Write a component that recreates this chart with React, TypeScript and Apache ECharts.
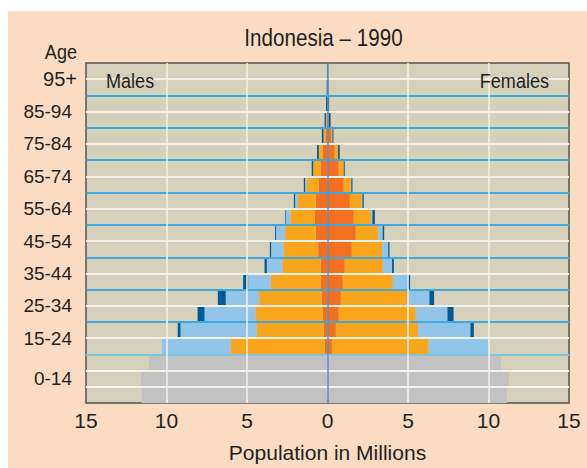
import React, { useEffect, useRef } from "react";
import * as echarts from "echarts";

// 21 five-year rows, bottom to top
const rowLabels = ["0-4", "5-9", "10-14", "15-19", "20-24", "25-29", "30-34", "35-39", "40-44", "45-49", "50-54", "55-59", "60-64", "65-69", "70-74", "75-79", "80-84", "85-89", "90-94", "95-99", "100+"];
// label groups shown on the axis
const ageGroups = ["0-14", "15-24", "25-34", "35-44", "45-54", "55-64", "65-74", "75-84", "85-94", "95+"];
const xTickLabels = [-15, -10, -5, 0, 5, 10, 15];

// rows 0-4, 5-9, 10-14 (millions)
const maleChildren = [11.53, 11.59, 11.1];
const femaleChildren = [11.14, 11.26, 10.77];

// rows 15-19 ... 100+ (millions, segment widths from the centre outward)
const maleDarkOrange = [0.17, 0.23, 0.29, 0.35, 0.43, 0.43, 0.58, 0.73, 0.79, 0.73, 0.54, 0.41, 0.29, 0.12, 0.05, 0, 0, 0];
const maleOrange = [5.84, 4.16, 4.18, 3.9, 3.09, 2.37, 2.15, 1.9, 1.51, 1.13, 0.75, 0.48, 0.25, 0.13, 0.05, 0, 0, 0];
const maleLightBlue = [4.28, 4.74, 3.17, 2.07, 1.41, 0.97, 0.77, 0.56, 0.29, 0.15, 0.1, 0, 0, 0, 0, 0, 0, 0];
const maleDarkBlue = [0, 0.17, 0.43, 0.49, 0.31, 0.14, 0.08, 0.06, 0.04, 0.08, 0.08, 0.09, 0.11, 0.1, 0.08, 0.09, 0.05, 0.03];
const femaleDarkOrange = [0.27, 0.52, 0.7, 0.83, 0.95, 1.07, 1.51, 1.76, 1.63, 1.39, 1.01, 0.7, 0.45, 0.25, 0.08, 0, 0, 0];
const femaleOrange = [6.0, 5.11, 4.78, 4.16, 3.11, 2.36, 1.88, 1.38, 1.08, 0.74, 0.44, 0.31, 0.21, 0.06, 0, 0, 0, 0];
const femaleLightBlue = [3.75, 3.25, 1.97, 1.34, 0.91, 0.58, 0.38, 0.29, 0.08, 0.04, 0.03, 0, 0, 0, 0, 0, 0, 0];
const femaleDarkBlue = [0, 0.21, 0.38, 0.29, 0.16, 0.11, 0.08, 0.09, 0.15, 0.08, 0.07, 0.06, 0.1, 0.06, 0.11, 0.1, 0.05, 0.03];

const FONT = "'Liberation Sans', Arial, sans-serif";
const TEXT = "#231f20";
const C_GRAY = "#c2c2c2";
const C_DORANGE = "#f37021";
const C_ORANGE = "#f9a61c";
const C_LBLUE = "#92c4ea";
const C_DBLUE = "#005b94";
const CONDENSE = 0.86;

const nChild = maleChildren.length;

function childData(vals: number[], sign: number) {
  return rowLabels.map((_, i) => (i < nChild ? sign * vals[i] : null));
}
function adultData(vals: number[], sign: number) {
  return rowLabels.map((_, i) => (i < nChild ? null : sign * vals[i - nChild]));
}

function label(text: string, x: number, y: number, size: number, align: string) {
  return {
    type: "text",
    x,
    y,
    scaleX: CONDENSE,
    z: 20,
    style: { text, x: 0, y: 0, align, verticalAlign: "middle", fontSize: size, fill: TEXT, fontFamily: FONT },
  };
}

export default function App() {
  const ref = useRef<HTMLDivElement>(null);
  useEffect(() => {
    if (!ref.current) return;
    const chart = echarts.init(ref.current, null, { renderer: "svg" });

    // horizontal row boundaries: 22 lines (bottom edge .. top edge)
    const hColors: string[] = [];
    for (let k = 0; k <= rowLabels.length; k++) {
      if (k === 0 || k === rowLabels.length) hColors.push("rgba(0,0,0,0)");
      else if (k === nChild) hColors.push("#7cc6e2");
      else if (k > nChild && (k - nChild) % 2 === 0) hColors.push("#3fa8de");
      else hColors.push("#f2f0e8");
    }
    const vColors = xTickLabels.map((v) =>
      Math.abs(v) === 15 ? "rgba(0,0,0,0)" : v === 0 ? "#5b8ec2" : "#f4f2ec"
    );

    // label slots at half-row resolution (43 positions, boundaryGap false)
    const slots: string[] = new Array(rowLabels.length * 2 + 1).fill("");
    ageGroups.forEach((g, i) => {
      if (i === 0) slots[nChild] = g; // centre of the 3 child rows
      else slots[2 * (nChild + 2 * (i - 1) + 1)] = g;
    });
    const lastGroup = ageGroups[ageGroups.length - 1];

    const mk = (name: string, data: (number | null)[], color: string) => ({
      name,
      type: "bar",
      stack: "pop",
      yAxisIndex: 0,
      barCategoryGap: "0%",
      data,
      itemStyle: { color },
      emphasis: { disabled: true },
    });

    chart.setOption({
      animation: false,
      backgroundColor: "#fbdcc3",
      textStyle: { fontFamily: FONT },
      grid: {
        left: 78,
        top: 52,
        width: 483,
        height: 340,
        show: true,
        backgroundColor: "#d5d0ba",
        borderColor: "#55534c",
        borderWidth: 1.5,
      },
      xAxis: {
        type: "value",
        min: -15,
        max: 15,
        interval: 5,
        z: 10,
        axisLine: { show: false },
        axisTick: { show: false },
        splitLine: { show: true, lineStyle: { color: vColors, width: 1.5 } },
        axisLabel: {
          margin: 7,
          fontSize: 21,
          color: TEXT,
          fontFamily: FONT,
          formatter: (v: number) => String(Math.abs(v)),
        },
        name: "Population in Millions",
        nameLocation: "middle",
        nameGap: 39,
        nameTextStyle: { fontSize: 21, color: TEXT, fontFamily: FONT },
      },
      yAxis: [
        {
          type: "category",
          data: rowLabels,
          z: 10,
          axisLine: { show: false },
          axisTick: { show: false },
          axisLabel: { show: false },
          splitLine: { show: true, interval: 0, lineStyle: { color: hColors, width: 2 } },
        },
        {
          type: "category",
          data: slots,
          boundaryGap: false,
          position: "left",
          axisLine: { show: false },
          axisTick: { show: false },
          splitLine: { show: false },
          axisLabel: {
            interval: 0,
            margin: 9,
            fontSize: 19,
            color: TEXT,
            fontFamily: FONT,
            formatter: (v: string) => (v === "" ? "" : v === lastGroup ? `{t|${v}}` : `{n|${v}}`),
            rich: {
              t: { fontSize: 20, color: TEXT, fontFamily: FONT },
              n: { fontSize: 19, color: TEXT, fontFamily: FONT, padding: [0, 5, 0, 0] },
            },
          },
        },
      ],
      graphic: [
        label("Indonesia – 1990", 315.5, 26.5, 24, "center"),
        label("Age", 69, 40, 21, "right"),
        label("Males", 98, 69, 21, "left"),
        label("Females", 541, 69, 21, "right"),
      ],
      series: [
        mk("Males 0-14", childData(maleChildren, -1), C_GRAY),
        mk("Males core", adultData(maleDarkOrange, -1), C_DORANGE),
        mk("Males middle", adultData(maleOrange, -1), C_ORANGE),
        mk("Males outer", adultData(maleLightBlue, -1), C_LBLUE),
        mk("Males edge", adultData(maleDarkBlue, -1), C_DBLUE),
        mk("Females 0-14", childData(femaleChildren, 1), C_GRAY),
        mk("Females core", adultData(femaleDarkOrange, 1), C_DORANGE),
        mk("Females middle", adultData(femaleOrange, 1), C_ORANGE),
        mk("Females outer", adultData(femaleLightBlue, 1), C_LBLUE),
        mk("Females edge", adultData(femaleDarkBlue, 1), C_DBLUE),
      ],
    });
    return () => chart.dispose();
  }, []);
  return (
    <div
      ref={ref}
      style={{ position: "absolute", left: 8, top: 11, width: 579, height: 457 }}
    />
  );
}
